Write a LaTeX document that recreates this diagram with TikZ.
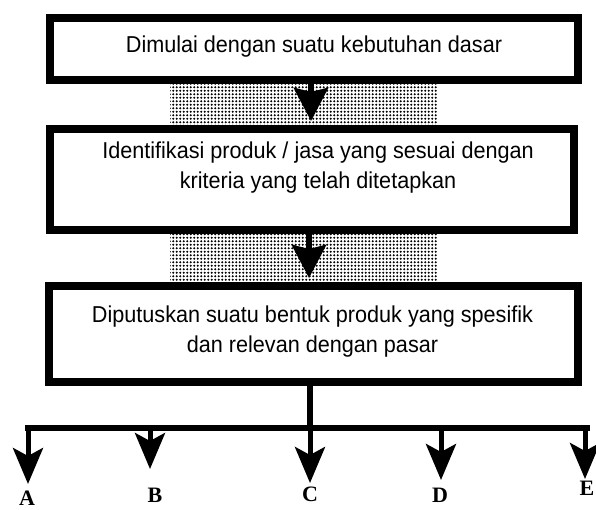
\documentclass[tikz,border=0pt]{standalone}
\usepackage{fontspec}
\setmainfont{Liberation Serif}
\newfontfamily\boxfont[FakeStretch=0.94]{Liberation Sans}
\usetikzlibrary{arrows.meta,patterns}
% coarse halftone dots for the bands between the stages
\pgfdeclarepatternformonly{halftone}{\pgfqpoint{-0.5pt}{-0.5pt}}{\pgfqpoint{4pt}{4pt}}{\pgfqpoint{3.5pt}{3.5pt}}{%
  \pgfpathcircle{\pgfqpoint{1.75pt}{1.75pt}}{1.1pt}\pgfusepath{fill}}
\begin{document}
\begin{tikzpicture}[x=1pt,y=-1pt,
  stagebox/.style={draw, line width=8pt, fill=white, inner sep=0pt},
  stagetext/.style={font=\boxfont\fontsize{23}{30}\selectfont, align=center, inner sep=0pt},
  band/.style={pattern=halftone, pattern color=black},
  flow/.style={line width=6pt, -{Stealth[length=33pt,width=34pt,inset=4pt]}},
  drop/.style={line width=5pt, -{Stealth[length=36pt,width=30pt,inset=8pt]}},
  rail/.style={line width=6pt},
  letter/.style={font=\bfseries\fontsize{22}{22}\selectfont, inner sep=0pt}
]
\useasboundingbox (0,0) rectangle (596,509);

% dotted bands behind the flow arrows
\fill[band] (170,80) rectangle (437,129);
\fill[band] (170,230) rectangle (437,286);

% the three stages
\node[stagebox, minimum width=528pt, minimum height=62pt] (box1) at (314,49) {};
\node[stagebox, minimum width=524pt, minimum height=101pt] (box2) at (312,179.5) {};
\node[stagebox, minimum width=529pt, minimum height=96pt] (box3) at (313.5,334) {};

\node[stagetext] (txt1) at (314,47) {Dimulai dengan suatu kebutuhan dasar};
\node[stagetext] (txt2) at (318,168) {Identifikasi produk / jasa yang sesuai dengan\\kriteria yang telah ditetapkan};
\node[stagetext] (txt3) at (312.5,332) {Diputuskan suatu bentuk produk yang spesifik\\dan relevan dengan pasar};

% flow between stages
\draw[flow] ([xshift=-3pt,yshift=7pt]box1.south) -- ([xshift=-1pt,yshift=4pt]box2.north);
\draw[flow] ([xshift=-3pt]box2.south) -- ([xshift=-4.5pt,yshift=4pt]box3.north);

% branching to the alternatives
\coordinate (hub) at (310,428);
\coordinate (barL) at (25,428);
\coordinate (barR) at (590,428);
\draw[rail] ([xshift=-3.5pt]box3.south) -- (hub);
\draw[rail] (barL) -- (barR);

\coordinate (jA) at (28,428);  \coordinate (tA) at (28,484);
\coordinate (jB) at (150,428); \coordinate (tB) at (150,469);
\coordinate (jC) at (310,428); \coordinate (tC) at (310,483);
\coordinate (jD) at (441,428); \coordinate (tD) at (441,480);
\coordinate (jE) at (585,428); \coordinate (tE) at (585,479);
\draw[drop] (jA) -- (tA);
\draw[drop] (jB) -- (tB);
\draw[drop] (jC) -- (tC);
\draw[drop] (jD) -- (tD);
\draw[drop] (jE) -- (tE);

\node[letter] (A) at (27,498) {A};
\node[letter] (B) at (155,495) {B};
\node[letter] (C) at (310,494) {C};
\node[letter] (D) at (440,495) {D};
\node[letter] (E) at (587,488) {E};
\end{tikzpicture}
\end{document}
